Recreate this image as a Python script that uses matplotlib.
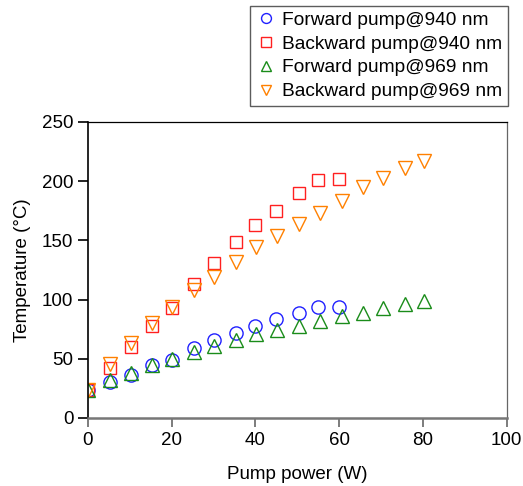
import matplotlib
matplotlib.use('Agg')
import matplotlib.pyplot as plt

plt.rcParams['font.family'] = ['Liberation Sans', 'DejaVu Sans']

# pump power (W)
x_940 = [0, 5.3, 10.3, 15.3, 20, 25.3, 30, 35.3, 40, 45, 50.3, 55, 60]
x_969 = [0, 5.3, 10.3, 15.3, 20.2, 25.3, 30.2, 35.3, 40.2, 45.2, 50.3, 55.5, 60.6, 65.6, 70.5, 75.6, 80.3]

# temperature (C)
fwd_940 = [24, 30, 36, 45, 49, 59, 66, 72, 78, 84, 89, 94, 94]
bwd_940 = [24, 42, 60, 78, 93, 113, 131, 149, 163, 175, 190, 201, 202]
fwd_969 = [24, 32, 38, 45, 50, 56, 61, 66, 71, 74, 78, 82, 86, 89, 93, 96, 99]
bwd_969 = [24, 46, 63, 80, 94, 108, 119, 132, 144, 154, 164, 173, 183, 195, 203, 211, 217]

labels = ['Forward pump@940 nm', 'Backward pump@940 nm',
          'Forward pump@969 nm', 'Backward pump@969 nm']

fig = plt.figure(figsize=(5.23, 4.86), dpi=100)
ax = fig.add_axes([0.168, 0.140, 0.801, 0.609])

ms = 9.5
ax.plot(x_940, fwd_940, 'o', ms=ms, mfc='none', mec='#2020ff', mew=1.0, label=labels[0])
ax.plot(x_940, bwd_940, 's', ms=ms - 0.5, mfc='none', mec='#ff2020', mew=1.0, label=labels[1])
ax.plot(x_969, fwd_969, '^', ms=ms, mfc='none', mec='#1a8c1a', mew=1.0, label=labels[2])
ax.plot(x_969, bwd_969, 'v', ms=ms, mfc='none', mec='#ff8000', mew=1.0, label=labels[3])

ax.set_xlim(0, 100)
ax.set_ylim(0, 250)
ax.set_xticks(range(0, 101, 20))
ax.set_yticks(range(0, 251, 50))
ax.tick_params(labelsize=13.5, direction='out', width=1.2)
ax.tick_params(axis='y', length=7)
ax.tick_params(axis='x', length=6.5, colors='#666666', labelcolor='black')

ax.spines['left'].set_linewidth(1.2)
ax.spines['bottom'].set_linewidth(1.8)
ax.spines['bottom'].set_color('#777777')
ax.spines['top'].set_linewidth(0.9)
ax.spines['right'].set_linewidth(0.9)
ax.spines['right'].set_color('#666666')

ax.set_xlabel('Pump power (W)', fontsize=13.5, labelpad=12)
ax.set_ylabel('Temperature (°C)', fontsize=13.5, labelpad=8)

leg = fig.legend(loc='upper right', bbox_to_anchor=(0.972, 0.988), fontsize=13.8,
                 frameon=True, fancybox=False, edgecolor='#333333',
                 handletextpad=0.3, handlelength=1.1, borderpad=0.3,
                 labelspacing=0.33, markerscale=0.75, borderaxespad=0)
leg.get_frame().set_linewidth(1.0)

fig.savefig('out.png', dpi=100)
